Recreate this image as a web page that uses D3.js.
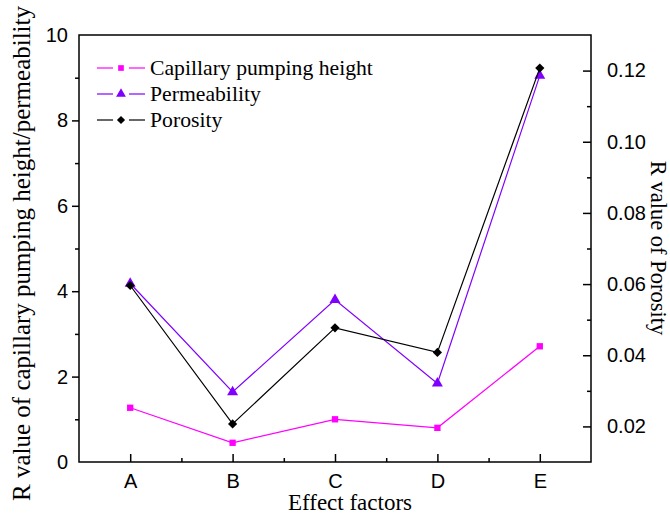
<!DOCTYPE html>
<html>
<head>
<meta charset="utf-8">
<script src="https://cdn.jsdelivr.net/npm/d3@7"></script>
<style>
  html, body { margin: 0; padding: 0; background: #fff; }
  svg { display: block; }
  .tick-label { font-family: "Liberation Sans", Arial, sans-serif; font-size: 20px; fill: #000; }
  .title { font-family: "Liberation Serif", "Times New Roman", serif; fill: #000; }
  .legend-text { font-family: "Liberation Serif", "Times New Roman", serif; font-size: 21.7px; fill: #000; }
</style>
</head>
<body>
<svg id="chart" width="670" height="517"></svg>
<script>
// Effect factors and range (R) values per response
const factors = ["A", "B", "C", "D", "E"];
const capillary = [1.27, 0.45, 1.00, 0.80, 2.71];
const permeability = [4.18, 1.64, 3.80, 1.84, 9.05];
const porosity = [0.0596, 0.0207, 0.0477, 0.0408, 0.1207];

const leftTicks = [0, 2, 4, 6, 8, 10];
const leftMinor = [1, 3, 5, 7, 9];
const rightTicks = [0.02, 0.04, 0.06, 0.08, 0.10, 0.12];
const rightMinor = [0.03, 0.05, 0.07, 0.09, 0.11];

const svg = d3.select("#chart");
const plot = { left: 79, right: 591, top: 35, bottom: 462 };

const x = d3.scaleLinear().domain([0.5, factors.length + 0.5]).range([plot.left, plot.right]);
const yL = d3.scaleLinear().domain([0, 10]).range([plot.bottom, plot.top]);
const yR = d3.scaleLinear().domain([0.01, 0.13]).range([plot.bottom, plot.top]);

const axisStroke = 1.5;

// frame
svg.append("rect")
  .attr("x", plot.left).attr("y", plot.top)
  .attr("width", plot.right - plot.left).attr("height", plot.bottom - plot.top)
  .attr("fill", "none").attr("stroke", "#000").attr("stroke-width", axisStroke);

function styleAxis(g) {
  g.attr("font-size", null).attr("font-family", null);
  g.select(".domain").remove();
  g.selectAll(".tick line").attr("stroke", "#000").attr("stroke-width", axisStroke);
  g.selectAll(".tick text").attr("class", "tick-label").attr("fill", "#000");
}

// left axis, ticks pointing outward
const leftMajorShown = leftTicks.filter(v => v > 0 && v < 10);
svg.append("g").attr("transform", `translate(${plot.left},0)`)
  .call(d3.axisLeft(yL).tickValues(leftTicks).tickFormat(d3.format("d")).tickSize(7).tickPadding(4))
  .call(styleAxis)
  .call(g => g.selectAll(".tick line").filter(d => !leftMajorShown.includes(d)).remove());
svg.append("g").attr("transform", `translate(${plot.left},0)`)
  .call(d3.axisLeft(yL).tickValues(leftMinor).tickFormat("").tickSize(4))
  .call(styleAxis);

// right axis, ticks pointing into the plot
svg.append("g").attr("transform", `translate(${plot.right},0)`)
  .call(d3.axisRight(yR).tickValues(rightTicks).tickFormat(d3.format(".2f")).tickSize(-8).tickPadding(16))
  .call(styleAxis);
svg.append("g").attr("transform", `translate(${plot.right},0)`)
  .call(d3.axisRight(yR).tickValues(rightMinor).tickFormat("").tickSize(-4))
  .call(styleAxis);

// bottom axis, ticks pointing into the plot
svg.append("g").attr("transform", `translate(0,${plot.bottom})`)
  .call(d3.axisBottom(x).tickValues(factors.map((f, i) => i + 1)).tickFormat((d, i) => factors[i]).tickSize(-8).tickPadding(12))
  .call(styleAxis);
svg.append("g").attr("transform", `translate(0,${plot.bottom})`)
  .call(d3.axisBottom(x).tickValues(d3.range(1.5, factors.length, 1)).tickFormat("").tickSize(-4))
  .call(styleAxis);

// axis titles
svg.append("text").attr("class", "title")
  .attr("font-size", 25)
  .attr("transform", `translate(30,${(plot.top + plot.bottom) / 2 + 5}) rotate(-90)`)
  .attr("text-anchor", "middle")
  .text("R value of capillary pumping height/permeability");
svg.append("text").attr("class", "title")
  .attr("font-size", 22.5)
  .attr("transform", `translate(651,248) rotate(90)`)
  .attr("text-anchor", "middle")
  .text("R value of Porosity");
svg.append("text").attr("class", "title")
  .attr("font-size", 23)
  .attr("x", 350).attr("y", 510)
  .attr("text-anchor", "middle")
  .text("Effect factors");

// series; diamonds are squares turned by 45 degrees
const series = [
  { name: "Capillary pumping height", values: capillary, scale: yL, color: "#ff00ff", symbol: d3.symbolSquare, size: 40, rot: 0 },
  { name: "Permeability", values: permeability, scale: yL, color: "#8000ff", symbol: d3.symbolTriangle, size: 52, rot: 0 },
  { name: "Porosity", values: porosity, scale: yR, color: "#000000", symbol: d3.symbolSquare, size: 42, rot: 45 }
];

series.forEach(s => {
  const line = d3.line().x((d, i) => x(i + 1)).y(d => s.scale(d));
  svg.append("path").datum(s.values)
    .attr("d", line).attr("fill", "none")
    .attr("stroke", s.color).attr("stroke-width", 1.2);
  svg.append("g").selectAll("path").data(s.values).join("path")
    .attr("transform", (d, i) => `translate(${x(i + 1)},${s.scale(d)}) rotate(${s.rot})`)
    .attr("d", d3.symbol().type(s.symbol).size(s.size))
    .attr("fill", s.color);
});

// legend
const legend = svg.append("g");
series.forEach((s, i) => {
  const cy = 68 + i * 26;
  const row = legend.append("g");
  row.append("line").attr("x1", 97).attr("x2", 113).attr("y1", cy).attr("y2", cy)
    .attr("stroke", s.color).attr("stroke-width", 1.2);
  row.append("line").attr("x1", 129).attr("x2", 145).attr("y1", cy).attr("y2", cy)
    .attr("stroke", s.color).attr("stroke-width", 1.2);
  row.append("path").attr("transform", `translate(121,${cy}) rotate(${s.rot})`)
    .attr("d", d3.symbol().type(s.symbol).size(s.size * 0.8))
    .attr("fill", s.color);
  row.append("text").attr("class", "legend-text")
    .attr("x", 150).attr("y", cy + 7)
    .text(s.name);
});
</script>
</body>
</html>
